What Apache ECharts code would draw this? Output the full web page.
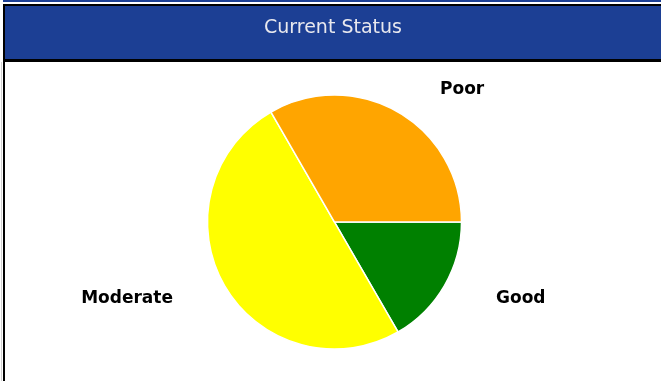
<!DOCTYPE html>
<html>
<head>
<meta charset="utf-8">
<script src="https://cdn.jsdelivr.net/npm/echarts@6/dist/echarts.min.js"></script>
<style>
html,body{margin:0;padding:0;background:#fff;}
#c{width:661px;height:381px;}
</style>
</head>
<body>
<div id="c"></div>
<script>
const titleText = 'Current Status';
const categories = ['Good', 'Moderate', 'Poor'];
const values = [1, 3, 2];
const sliceColors = ['#008000', '#ffff00', '#ffa500'];

const chart = echarts.init(document.getElementById('c'), null, {renderer: 'canvas'});
const BLUE = '#1c3f94';
chart.setOption({
  animation: false,
  title: {
    text: titleText,
    left: 264,
    top: 19,
    padding: 0,
    textStyle: {color: '#e8e8ee', fontFamily: 'DejaVu Sans', fontSize: 19, fontWeight: 'normal'}
  },
  graphic: [
    {type: 'rect', z: -10, shape: {x: 3, y: 0, width: 660, height: 2}, style: {fill: BLUE}},
    {type: 'rect', z: -10, shape: {x: 3, y: 4, width: 660, height: 58}, style: {fill: '#000'}},
    {type: 'rect', z: -9, shape: {x: 5, y: 6, width: 660, height: 53}, style: {fill: BLUE}},
    {type: 'rect', z: -10, shape: {x: 3, y: 62, width: 2, height: 330}, style: {fill: '#000'}},
    {type: 'rect', z: -10, shape: {x: 1, y: 62, width: 1, height: 330}, style: {fill: '#d0d0d0'}}
  ],
  series: [{
    type: 'pie',
    center: [334.5, 222],
    radius: 127,
    startAngle: 0,
    clockwise: true,
    avoidLabelOverlap: false,
    itemStyle: {borderColor: '#fff', borderWidth: 1.5},
    label: {
      show: true,
      position: 'outside',
      formatter: '{b}',
      color: '#000',
      fontFamily: 'DejaVu Sans',
      fontWeight: 'bold',
      fontSize: 17,
      distanceToLabelLine: 5
    },
    labelLine: {show: false, length: 26, length2: 24},
    emphasis: {disabled: true},
    data: categories.map((name, i) => ({name, value: values[i], itemStyle: {color: sliceColors[i]}}))
  }]
});
</script>
</body>
</html>
